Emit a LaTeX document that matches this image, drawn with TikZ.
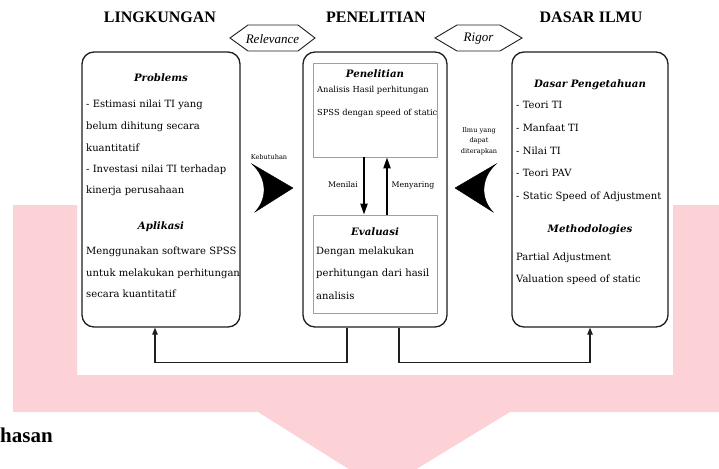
\documentclass[tikz,border=0pt]{standalone}
\usepackage{fontspec}
\setmainfont{Liberation Serif}
\newfontfamily\dv{DejaVu Serif}
\usetikzlibrary{arrows.meta}
\definecolor{wm}{RGB}{253,210,214}
\definecolor{bx}{RGB}{30,30,30}
\tikzset{
  bigbox/.style={draw=bx, line width=1.3pt, rounded corners=12pt, fill=white},
  innerbox/.style={draw=gray!75, line width=0.8pt, fill=white},
  hexa/.style={draw=bx, line width=0.9pt, fill=white},
  title/.style={font=\fontsize{16}{18}\selectfont\bfseries, inner sep=0pt},
  tag/.style={font=\fontsize{13}{15}\selectfont\itshape, inner sep=0pt},
  head/.style={font=\dv\fontsize{10.2}{12}\selectfont\bfseries\itshape, inner sep=0pt},
  txt/.style={font=\dv\fontsize{10}{12}\selectfont, inner sep=0pt, anchor=base west},
  small/.style={font=\dv\fontsize{8.3}{10}\selectfont, inner sep=0pt, anchor=base west},
  tiny/.style={font=\dv\fontsize{6.6}{10.5}\selectfont, inner sep=0pt, align=center},
  lbl/.style={font=\dv\fontsize{7.8}{10}\selectfont, inner sep=0pt},
  flow/.style={line width=2pt, -{Triangle[width=7pt,length=11pt]}},
  conn/.style={line width=1.1pt, draw=bx, -{Triangle[width=5.5pt,length=7pt]}},
  bighead/.style={fill=black, draw=black, line width=0.4pt}
}
\begin{document}
\begin{tikzpicture}[x=1pt,y=-1pt]
\useasboundingbox (0,0) rectangle (719,468);
\clip (0,0) rectangle (719,468);
% watermark
\fill[wm] (13,205) -- (77,205) -- (77,375) -- (673,375) -- (673,205) -- (719,205)
  -- (719,412) -- (510,412) -- (382,490) -- (258,412) -- (13,412) -- cycle;
% titles
\node[title] (t1) at (160,17) {LINGKUNGAN};
\node[title] (t2) at (376,17) {PENELITIAN};
\node[title] (t3) at (591,17) {DASAR ILMU};
% hexagons
\draw[hexa] (230,38) -- (248,25) -- (298,25) -- (315,38) -- (298,51) -- (248,51) -- cycle;
\node[tag] (rel) at (272.5,39) {Relevance};
\draw[hexa] (435,38) -- (457,25) -- (500,25) -- (522,38) -- (500,51) -- (457,51) -- cycle;
\node[tag] (rig) at (478.5,39) {Rigor};
% big boxes
\node[bigbox, minimum width=158pt, minimum height=275pt] (L) at (161,189.5) {};
\node[bigbox, minimum width=144pt, minimum height=275pt] (M) at (375,189.5) {};
\node[bigbox, minimum width=156pt, minimum height=275pt] (R) at (590,189.5) {};
% left box text
\node[head] (lh1) at (161,78) {Problems};
\node[txt] (l1) at (86,107) {- Estimasi nilai TI yang};
\node[txt] (l2) at (86,129) {belum dihitung secara};
\node[txt] (l3) at (86,151) {kuantitatif};
\node[txt] (l4) at (86,172) {- Investasi nilai TI terhadap};
\node[txt] (l5) at (86,193) {kinerja perusahaan};
\node[head] (lh2) at (161,227) {Aplikasi};
\node[txt] (l6) at (86,254) {Menggunakan software SPSS};
\node[txt] (l7) at (86,276) {untuk melakukan perhitungan};
\node[txt] (l8) at (86,297) {secara kuantitatif};
% middle
\node[innerbox, minimum width=124pt, minimum height=94pt] (P) at (375,110) {};
\node[head] (mh1) at (375,74) {Penelitian};
\node[small] (m1) at (317,93) {Analisis Hasil perhitungan};
\node[small] (m2) at (317,116) {SPSS dengan speed of static};
\node[innerbox, minimum width=124pt, minimum height=98pt] (E) at (375,264) {};
\node[head] (mh2) at (375,232) {Evaluasi};
\node[txt] (m3) at (316,254) {Dengan melakukan};
\node[txt] (m4) at (316,276) {perhitungan dari hasil};
\node[txt] (m5) at (316,299) {analisis};
\draw[flow] (P.south -| 364,0) -- (E.north -| 364,0);
\draw[flow] (E.north -| 387,0) -- (P.south -| 387,0);
\node[lbl] (men) at (343,185) {Menilai};
\node[lbl] (mey) at (413,185) {Menyaring};
% right box text
\node[head] (rh1) at (590,85) {Dasar Pengetahuan};
\node[txt] (r1) at (516,109) {- Teori TI};
\node[txt] (r2) at (516,131.5) {- Manfaat TI};
\node[txt] (r3) at (516,154) {- Nilai TI};
\node[txt] (r4) at (516,176.5) {- Teori PAV};
\node[txt] (r5) at (516,199) {- Static Speed of Adjustment};
\node[head] (rh2) at (590,230) {Methodologies};
\node[txt] (r6) at (516,260) {Partial Adjustment};
\node[txt] (r7) at (516,282) {Valuation speed of static};
% side arrows
\node[tiny] (keb) at (269,157) {Kebutuhan};
\path[bighead] (252,164) -- (293,188) -- (255,212) .. controls (268,198) and (267,178) .. (252,164) -- cycle;
\node[tiny] (ilmu) at (479,141) {Ilmu yang\\dapat\\diterapkan};
\path[bighead] (496,164) -- (455,188) -- (493,212) .. controls (480,198) and (481,178) .. (496,164) -- cycle;
% bottom connectors
\draw[conn] ([xshift=-28pt]M.south) -- ++(0,35) -| ([xshift=-6pt]L.south);
\draw[conn] ([xshift=24pt]M.south) -- ++(0,35) -| (R.south);
% cut text
\node[font=\fontsize{21}{24}\selectfont\bfseries, inner sep=0pt, anchor=base west] (pb) at (0,442) {hasan};
\end{tikzpicture}
\end{document}
